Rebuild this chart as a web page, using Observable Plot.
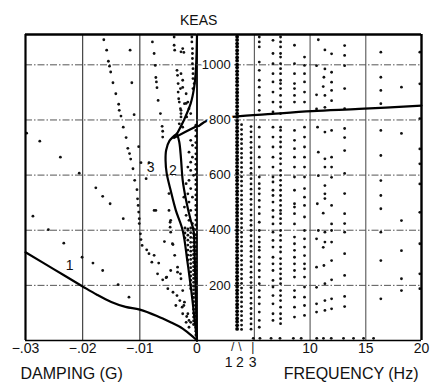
<!DOCTYPE html>
<html><head><meta charset="utf-8">
<script src="https://cdn.jsdelivr.net/npm/d3@7"></script>
<script src="https://cdn.jsdelivr.net/npm/@observablehq/plot@0.6"></script>
<style>
body{margin:0;background:#fff;}
#wrap{position:relative;width:432px;height:388px;background:#fff;}
#wrap svg{position:absolute;left:0;top:0;}
</style></head><body><div id="wrap"></div>
<script>
// ---------- ticks / labels ----------
const dampTicks = [-0.03, -0.02, -0.01, 0];
const dampTickText = ["\u2212.03", "\u2212.02", "\u2212.01", "0"];
const dampGrid = [-0.02, -0.01];
const freqTicks = [10, 15, 20];
const freqGrid = [5, 10, 15];
const keasTicks = [200, 400, 600, 800, 1000];
const modeFreqs = [3.05, 3.7, 4.85];
const modeLeaders = ["/", "\\", "|"];
const modeNames = ["1", "2", "3"];

// ---------- damping curves (damping g, KEAS) ----------
const curve1 = [[-0.03,320],[-0.025,258],[-0.02,196],[-0.0175,166],[-0.015,140],[-0.0125,122],[-0.01,112],[-0.007,89],[-0.0045,65],[-0.0028,47],[-0.0012,22],[0,0]];
const curve2 = [[0,0],[-0.0002,150],[-0.0004,300],[-0.0006,399],[-0.0011,436],[-0.0019,508],[-0.0025,581],[-0.0028,660],[-0.0031,720],[-0.0035,750]];
const curve3 = [[0,0],[-0.0004,73],[-0.0010,181],[-0.0017,290],[-0.0025,399],[-0.0037,472],[-0.0046,544],[-0.0053,606],[-0.0055,653],[-0.0054,690],[-0.0048,725],[-0.0035,750]];
const curveTop = [[-0.0035,750],[-0.0023,799],[-0.0011,860],[-0.0005,918],[-0.0002,980],[0,1107]];
const curveLabels = [["1",-0.0223,272],["2",-0.0042,617],["3",-0.0081,628]];
const boundaryDamp = [[-0.0040,735],[-0.0020,757],[0,778]];
const boundaryFreq = [[0,778],[0.9,800],[3.3,812],[6.6,822],[10.2,832],[14.4,840],[20,852]];

// ---------- damping scatter (damping g, KEAS) ----------
const dampDots = [
[-0.0163,1091],[-0.0158,1053],[-0.0155,1013],[-0.0153,995],[-0.0151,974],[-0.0147,935],[-0.0142,895],[-0.0137,857],[-0.0136,835],[-0.0133,814],[-0.0129,774],[-0.0124,736],[-0.0121,697],[-0.0118,678],[-0.0116,658],[-0.0112,623],[-0.0109,581],[-0.0105,547],[-0.0104,514],[-0.0103,490],[-0.0102,466],[-0.0101,442],[-0.0101,424],[-0.0099,387],[-0.0098,366],[-0.0096,345],
[-0.0117,1053],[-0.0114,935],[-0.0110,819],[-0.0102,703],[-0.0098,645],[-0.0084,645],
[-0.0298,752],[-0.0275,723],[-0.0239,665],[-0.0206,607],[-0.0177,554],[-0.0165,523],[-0.0152,496],[-0.0129,442],[-0.0287,451],[-0.0260,402],[-0.0233,353],[-0.0201,302],[-0.0182,281],[-0.0165,254],[-0.0138,203],[-0.0119,157],
[-0.0088,329],[-0.0084,315],[-0.0075,309],[-0.0079,284],[-0.0067,281],[-0.0069,242],[-0.0060,220],[-0.0054,228],[-0.0051,188],[-0.0042,175],[-0.0046,254],[-0.0034,248],[-0.0043,351],[-0.0057,359],[-0.0075,472],[-0.0047,429],[-0.0046,393],[-0.0037,127],[-0.0023,127],[-0.0025,97],[-0.0018,87],[-0.0014,73],[-0.0025,181],[-0.0030,145],[-0.0019,66],[-0.0042,348],[-0.0039,309],[-0.0034,266],[-0.0053,230],[-0.0029,242],[-0.0028,224],[-0.0035,163],[-0.0022,139],[-0.0026,121],[-0.0016,97],[-0.0011,66],[-0.0014,48],
[-0.0078,1083],[-0.0075,1041],[-0.0073,998],[-0.0072,954],[-0.0071,938],[-0.0070,917],[-0.0068,871],[-0.0064,823],[-0.0061,777],[-0.0060,759],[-0.0060,738],[-0.0089,587],[-0.0072,472],[-0.0049,472],[-0.0046,436],[-0.0047,411],[-0.0049,533],
[-0.0040,1101],[-0.0040,1071],[-0.0039,1053],[-0.0035,980],[-0.0034,962],[-0.0033,932],[-0.0033,901],[-0.0032,877],[-0.0031,865],[-0.0029,841],[-0.0028,823],
[-0.0009,1101],[-0.0009,1083],[-0.0008,1059],[-0.0008,1041],[-0.0008,1023],[-0.0008,1004],[-0.0007,986],[-0.0007,968],[-0.0007,950],[-0.0005,932],[-0.0007,914],
[-0.0025,1059],[-0.0028,1047],[-0.0028,968],[-0.0025,944],[-0.0029,914],[-0.0019,895],[-0.0022,859],[-0.0016,865],[-0.0028,811],[-0.0014,841],[-0.0018,811],[-0.0011,823],[-0.0031,786],[-0.0025,774],[-0.0023,1045],[-0.0025,918],[-0.0028,835],[-0.0019,860],
[-0.0011,726],[-0.0008,708],[-0.0014,683],[-0.0008,665],[-0.0011,647],[-0.0016,629],[-0.0011,617],[-0.0006,599],[-0.0014,581],[-0.0019,569],[-0.0011,551],[-0.0016,532],[-0.0023,520],[-0.0008,520],[-0.0014,502],[-0.0022,484],[-0.0011,472],[-0.0019,454],[-0.0014,436],[-0.0008,424],[-0.0016,405]
];
// dense band of points next to the zero-damping line
const bandDamp = [-0.0002, -0.0006, -0.0011, -0.0016, -0.0021];
const bandKeas = [
  [20,34,47,61,74,88,101,115,128,142,155,171,184,198,213,226,242,255,269,284,297,313,326,340,356,371,384,402,419,437,455,474,490,511,528,547,566,583,602,621,639,658,677,699,718,741,762,781],
  [58,71,85,99,113,127,141,156,170,184,197,211,225,239,254,268,283,298,312,327,341,356,372,388,405],
  [188,203,219,234,249,264,279,294,309,324,339,356,374,391,408],
  [292,310,328,346,364,382,400],
  [372,390,408]
];

// ---------- frequency scatter (Hz, KEAS) ----------
const freqCols = [3.45, 3.85, 4.7, 5.44, 6.67, 7.35, 8.6, 9.5, 13.1, 16.35, 18.2, 19.85];
const colKeas = [
  [1102,1090,1077,1066,1052,1040,1027,1015,1001,990,977,964,951,939,926,912,900,887,874,862,849,836,823,811,797,785,772,759,746,734,720,708,695,682,669,657,644,631,618,606,592,580,567,554,541,529,515,503,490,477,464,452,438,426,413,400,387,375,362,349,336,324,310,298,285,272,259,247,233,221,208,195,182,170,157,144,131,119,106,93,80,68,55,42],
  [783,765,748,730,714,696,679,663,645,628,611,594,578,561,543,527,510,493,476,460,442,426,409,392,375,358,342,325,308,291,274,258,241,224,207,190,174,157,140,123,106,90,73,56,40],
  [776,757,738,719,700,681,662,644,625,606,587,568,549,531,512,493,474,455,436,418,399,380,361,342,323,305,286,267,248,229,210,192,173,154,135,116,97,79,60,41],
  [1101,1083,1065,1010,980,944,919,889,865,835,774,738,702,665,629,593,569,551,532,508,484,460,429,399,375,357,339,327,302,278,254,230,206,181,157,133,103,73,48],
  [1089,1041,1004,968,938,901,865,829,774,738,702,665,629,593,575,545,526,502,472,448,423,393,363,339,302,278,254,218,194,163,133,97,73],
  [1101,1083,1065,1041,1028,1004,986,968,944,932,914,889,865,847,823,774,762,738,720,702,678,660,641,617,599,581,563,545,526,508,490,472,460,442,424,399,381,363,339,321,297,278,260,242,224,206,181,163,145,121,97,79,61],
  [1071,1004,968,932,914,889,865,762,726,696,665,629,593,545,496,484,460,423,375,351,327,302,278,254,230,181,157,121,85],
  [1028,998,968,938,901,865,774,738,702,665,629,593,551,520,490,448,399,369,339,308,278,260,230,194,157,127,91],
  [1070,1034,997,914,841,769,736,689,606,533,460,424,393,315,236,160,123],
  [1046,955,907,859,762,671,580,526,478,393,290,151],
  [919,751,435,326,224,181],
  [1046,931,805,695,641,568,465,351,242,188]
];
const freqDots = [
[10.74,1091],[11.33,1054],[11.93,1040],[10.58,997],[11.33,985],[11.93,973],[11.24,955],[11.93,937],[11.18,921],[11.93,907],[10.58,891],[11.33,889],[11.93,870],[10.58,840],[11.33,846],
[10.67,774],[11.33,756],[11.93,762],[10.74,683],[11.33,659],[11.93,665],[11.33,629],[11.93,629],[10.74,598],[11.33,562],[11.93,592],[11.33,532],
[10.65,496],[11.33,515],[11.93,490],[11.18,462],[11.93,423],[10.74,399],[11.33,393],[11.93,399],[10.58,369],[11.33,357],[11.93,357],[11.18,338],[11.93,290],[11.24,272],[10.58,266],[11.93,220],[11.33,206],[10.58,193],[11.93,151],[11.33,145],[10.58,133],[11.93,115],[11.33,109],[10.58,103],
[4.9,8],[5.5,8],[6.5,8],[7.3,8],[8.5,8],[9.2,8],[10.6,8],[11.2,8],[11.9,8],[13.0,8],[13.9,8],[14.8,8],[15.7,8]
];

// ---------- flatten ----------
const bandPts = bandKeas.flatMap((ks, i) => ks.map(k => [bandDamp[i], k]));
const colPts = colKeas.flatMap((ks, i) => ks.map(k => [freqCols[i], k, i]));
const modePts = colPts.filter(p => p[2] < 1);
const otherColPts = colPts.filter(p => p[2] >= 1);

const font = "'Liberation Sans', Arial, Helvetica, sans-serif";
const common = {
  width: 432, height: 388, marginTop: 34, marginBottom: 48,
  y: {domain: [0, 1110], axis: null},
  style: {background: "transparent", fontFamily: font, overflow: "visible", color: "#111"}
};
const dash = "7,2,1.5,2";
const R = 1.4;

const left = Plot.plot({
  ...common,
  marginLeft: 25, marginRight: 235.5,
  x: {domain: [-0.03, 0], axis: null},
  marks: [
    Plot.ruleX(dampGrid, {stroke: "#333", strokeWidth: 1.1}),
    Plot.ruleY(keasTicks, {stroke: "#555", strokeWidth: 1, strokeDasharray: dash}),
    Plot.dot(dampDots, {x: d => d[0], y: d => d[1], r: R, fill: "#111"}),
    Plot.dot(bandPts, {x: d => d[0], y: d => d[1], r: R, fill: "#111"}),
    Plot.line(curve1, {x: d => d[0], y: d => d[1], stroke: "#000", strokeWidth: 2.2, curve: "catmull-rom"}),
    Plot.line(curve2, {x: d => d[0], y: d => d[1], stroke: "#000", strokeWidth: 2.2, curve: "catmull-rom"}),
    Plot.line(curve3, {x: d => d[0], y: d => d[1], stroke: "#000", strokeWidth: 2.2, curve: "catmull-rom"}),
    Plot.line(curveTop, {x: d => d[0], y: d => d[1], stroke: "#000", strokeWidth: 2.2, curve: "catmull-rom"}),
    Plot.line(boundaryDamp, {x: d => d[0], y: d => d[1], stroke: "#000", strokeWidth: 2.2}),
    Plot.ruleX([-0.03], {stroke: "#000", strokeWidth: 2.2}),
    Plot.ruleX([0], {stroke: "#000", strokeWidth: 1.8}),
    Plot.ruleY([0], {stroke: "#000", strokeWidth: 1.6}),
    Plot.ruleY([1110], {stroke: "#000", strokeWidth: 2.4}),
    Plot.text(curveLabels, {x: d => d[1], y: d => d[2], text: d => d[0], fontSize: 14, fill: "#111"}),
    Plot.text(dampTicks, {x: d => d, text: (d, i) => dampTickText[i], frameAnchor: "bottom", dy: 12, fontSize: 14, fill: "#111"}),
    Plot.text(["DAMPING (G)"], {x: -0.03, text: d => d, frameAnchor: "bottom", dy: 38, dx: -5, textAnchor: "start", fontSize: 16, fill: "#111"})
  ]
});

const right = Plot.plot({
  ...common,
  marginLeft: 196.5, marginRight: 11,
  x: {domain: [-0.15, 20], axis: null},
  marks: [
    Plot.ruleX(freqGrid, {stroke: "#555", strokeWidth: 1.1}),
    Plot.ruleY(keasTicks, {stroke: "#555", strokeWidth: 1, strokeDasharray: dash}),
    Plot.dot(modePts, {x: d => d[0], y: d => d[1], r: 1.9, fill: "#000"}),
    Plot.dot(otherColPts, {x: d => d[0], y: d => d[1], r: R, fill: "#111"}),
    Plot.dot(freqDots, {x: d => d[0], y: d => d[1], r: R, fill: "#111"}),
    Plot.line(boundaryFreq, {x: d => d[0], y: d => d[1], stroke: "#000", strokeWidth: 2.2, curve: "catmull-rom"}),
    Plot.ruleY([1110], {stroke: "#000", strokeWidth: 2.4}),
    Plot.ruleY([0], {stroke: "#000", strokeWidth: 1.6}),
    Plot.ruleX([20], {stroke: "#000", strokeWidth: 2.4}),
    Plot.text(keasTicks, {x: 0, y: d => d, text: d => String(d), textAnchor: "end", dx: 32, fontSize: 13, fill: "#fff", stroke: "#fff", strokeWidth: 5}),
    Plot.text(keasTicks, {x: 0, y: d => d, text: d => String(d), textAnchor: "end", dx: 32, fontSize: 13, fill: "#111"}),
    Plot.text(["KEAS"], {x: 0, text: d => d, frameAnchor: "top", dy: -19, fontSize: 14, fill: "#111"}),
    Plot.text(freqTicks, {x: d => d, text: d => String(d), frameAnchor: "bottom", dy: 12, fontSize: 14, fill: "#111"}),
    Plot.text(modeFreqs, {x: d => d, text: (d, i) => modeLeaders[i], frameAnchor: "bottom", dy: 10, fontSize: 12, fill: "#222"}),
    Plot.text(modeFreqs.slice(0, 1), {x: d => d, text: (d, i) => modeNames[i], frameAnchor: "bottom", dy: 26, dx: -4, fontSize: 14, fill: "#111"}),
    Plot.text(modeFreqs.slice(1), {x: d => d, text: (d, i) => modeNames[i + 1], frameAnchor: "bottom", dy: 26, fontSize: 14, fill: "#111"}),
    Plot.text(["FREQUENCY (Hz)"], {x: 20, text: d => d, frameAnchor: "bottom", dy: 38, dx: -3, textAnchor: "end", fontSize: 16, fill: "#111"})
  ]
});

const wrap = document.getElementById("wrap");
wrap.appendChild(left);
wrap.appendChild(right);
</script></body></html>
